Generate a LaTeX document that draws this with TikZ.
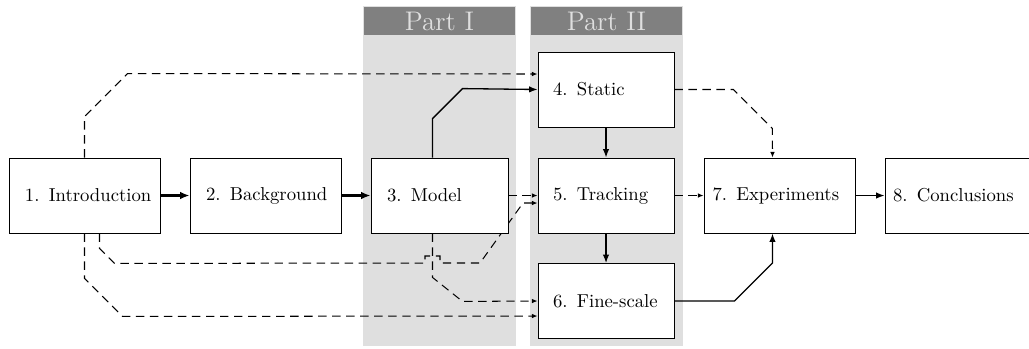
\documentclass[tikz,border=0pt]{standalone}
\usetikzlibrary{arrows.meta,calc}
\pgfdeclarelayer{bg}
\pgfdeclarelayer{lines}
\pgfsetlayers{bg,lines,main}
\newdimen\pxu \pxu=0.535pt
\tikzset{
  box/.style={draw, fill=white, line width=0.45pt, minimum height=75*\pxu, inner sep=0pt, align=left},
  column/.style={fill=gray!25, draw=none},
  header/.style={fill=gray, text=gray!25, font=\Large, inner sep=0pt, minimum width=151*\pxu, minimum height=28*\pxu},
  dashedarrow/.style={line width=0.55pt, dash pattern=on 4.5pt off 3pt, -{Latex[length=3pt,width=2.4pt]}},
  solidarrow/.style={line width=0.7pt, -{Latex[length=4.5pt,width=3.4pt]}},
  thickarrow/.style={line width=1.4pt, -{Latex[length=5pt,width=4pt]}},
}
\begin{document}
\begin{tikzpicture}[x=0.535pt, y=-0.535pt]
\useasboundingbox (0,0) rectangle (1029,348);
% columns
\begin{pgfonlayer}{bg}
  \fill[column] (363,6) rectangle (516,346);
  \fill[column] (530,6) rectangle (683,346);
\end{pgfonlayer}
\node[header] (p1) at (439.5,21) {Part I};
\node[header] (p2) at (606.5,21) {Part II};
% boxes
\node[box, minimum width=151*\pxu, text width=119*\pxu] (n1) at (84.5,195.5) {\mbox{1. Introduction}};
\node[box, minimum width=151*\pxu, text width=119*\pxu] (n2) at (265.5,195.5) {\mbox{2. Background}};
\node[box, minimum width=137*\pxu, text width=105*\pxu] (n3) at (439.5,195.5) {\mbox{3. Model}};
\node[box, minimum width=136*\pxu, text width=106*\pxu] (n4) at (606,89.5) {\mbox{4. Static}};
\node[box, minimum width=136*\pxu, text width=106*\pxu] (n5) at (606,195.5) {\mbox{5. Tracking}};
\node[box, minimum width=136*\pxu, text width=106*\pxu] (n6) at (606,301) {\mbox{6. Fine-scale}};
\node[box, minimum width=151*\pxu, text width=134*\pxu] (n7) at (779.5,195.5) {\mbox{7. Experiments}};
\node[box, minimum width=151*\pxu, text width=135*\pxu] (n8) at (960.5,195.5) {\mbox{8. Conclusions}};
% connectors
\begin{pgfonlayer}{lines}
  \draw[thickarrow] (n1) -- (n2);
  \draw[thickarrow] (n2) -- (n3);
  \draw[solidarrow] (n4) -- (n5);
  \draw[solidarrow] (n5) -- (n6);
  \draw[solidarrow] (n7) -- (n8);
  \draw[dashedarrow] (n5) -- (n7);
  \draw[dashedarrow] (n3) -- (n5);
  % Model -> Static
  \draw[solidarrow] ($(n3.north)+(-7,0)$) -- ++(0,-39) -- ++(30,-30) -- (n4.west);
  % Intro -> Static
  \draw[dashedarrow] (n1.north) -- ++(0,-41) -- ++(43,-43) -- ($(n4.west)+(0,-15.5)$);
  % Static -> Experiments
  \draw[dashedarrow] (n4.east) -- ++(59,0) -- ++(39,39) -- ($(n7.north)+(-7,0)$);
  % Fine-scale -> Experiments
  \draw[solidarrow] (n6.east) -- ++(60,0) -- ++(38,-38) -- ($(n7.south)+(-7,0)$);
  % Intro -> Tracking
  \draw[dashedarrow] ($(n1.south)+(15,0)$) -- ++(0,15) -- ++(15,15) -- (425,263) -- (425,256) -- (440,256) -- (440,263) -- (480,263) -- (523,203) -- ($(n5.west)+(0,7.5)$);
  % Model -> Fine-scale
  \draw[dashedarrow] ($(n3.south)+(-7,0)$) -- ++(0,44) -- ++(30,24) -- (n6.west);
  % Intro -> Fine-scale
  \draw[dashedarrow] (n1.south) -- ++(0,45) -- ++(38,38) -- ($(n6.west)+(0,15)$);
\end{pgfonlayer}
\end{tikzpicture}
\end{document}
